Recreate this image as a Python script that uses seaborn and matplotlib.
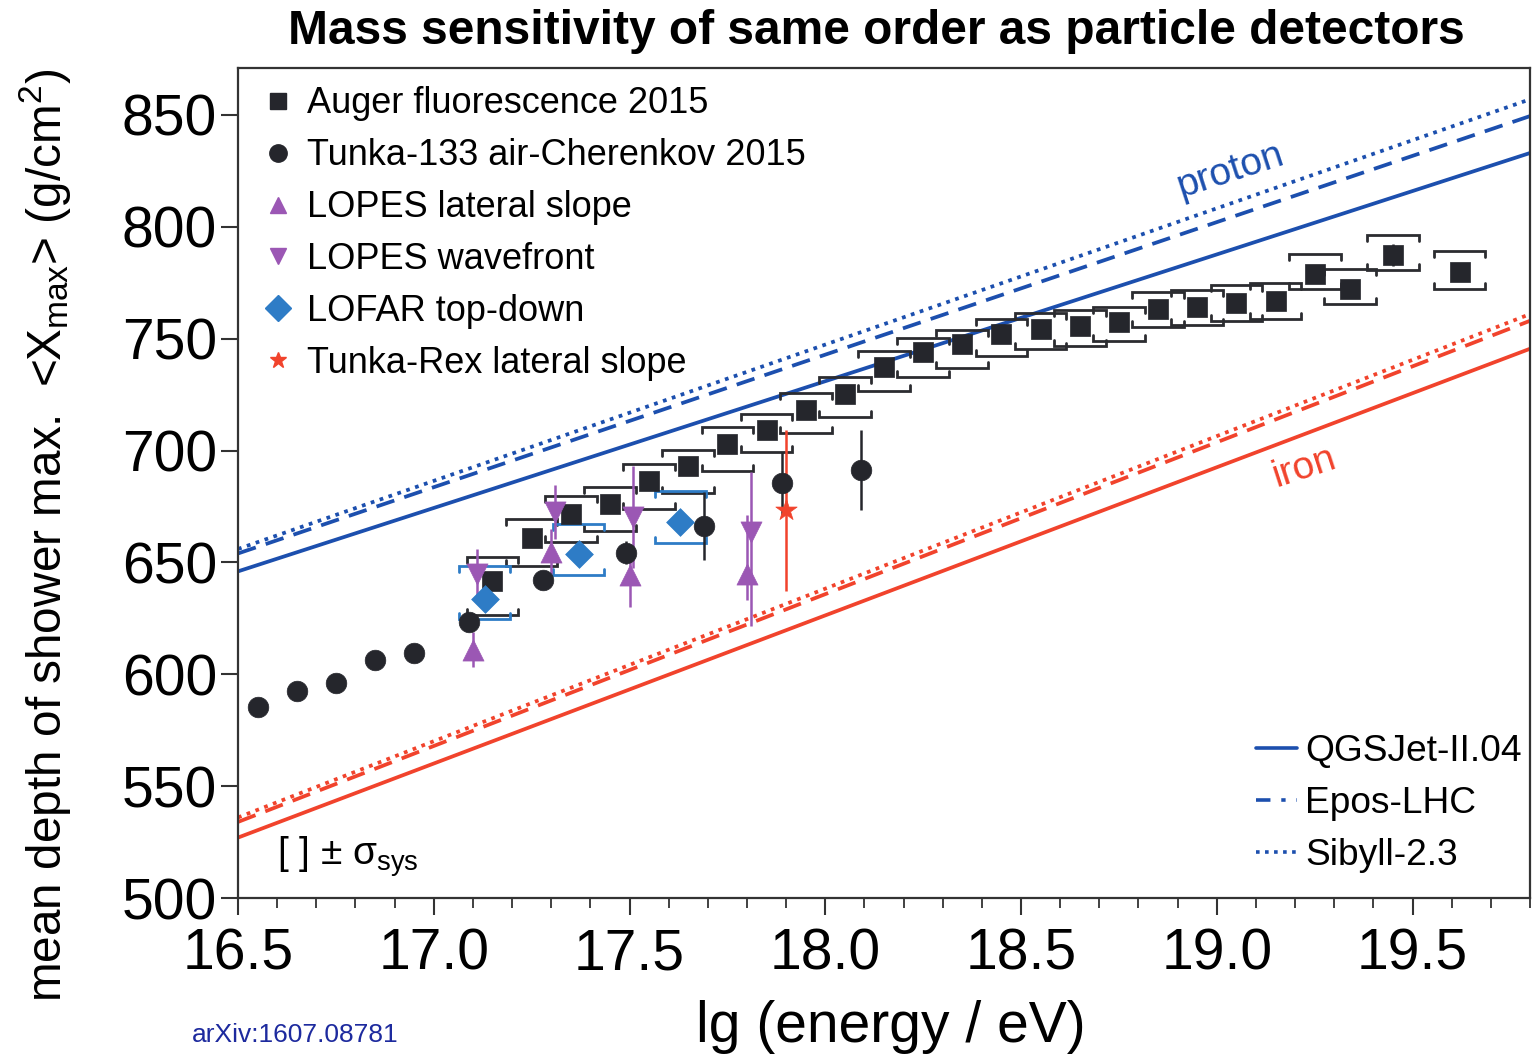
import numpy as np
import pandas as pd
import matplotlib
matplotlib.use("Agg")
import matplotlib.pyplot as plt
import seaborn as sns
from matplotlib.lines import Line2D
from matplotlib.ticker import MultipleLocator

# ---------------- data ----------------
auger_x = [17.15, 17.25, 17.35, 17.45, 17.55, 17.65, 17.75, 17.85, 17.95, 18.05,
           18.15, 18.25, 18.35, 18.45, 18.55, 18.65, 18.75, 18.85, 18.95, 19.05,
           19.15, 19.25, 19.34, 19.45, 19.62]
auger_y = [641.5, 661.0, 671.8, 676.2, 686.6, 692.9, 703.0, 709.2, 718.2, 725.3,
           737.5, 744.0, 747.6, 752.1, 754.3, 755.8, 757.3, 763.3, 764.3, 765.8,
           766.7, 778.9, 772.2, 787.5, 779.6]
auger_stat = [2, 2, 2, 2, 2, 2, 2, 2, 2, 2,
              2, 2, 2, 2, 2, 2, 2, 2, 2, 2.5,
              2.5, 3.5, 3, 5, 4]
auger_sys_up = [11, 8.5, 8, 7.5, 7.5, 7.4, 7.4, 7.2, 7.4, 7.4,
                7, 6.5, 6.5, 6.7, 7, 7, 7, 7.4, 7.5, 8,
                8.2, 9, 9, 9, 9.4]
auger_sys_lo = [15, 12.6, 12.7, 12, 12.6, 12, 12, 10, 10.5, 10.4,
                11, 11.2, 10.5, 9.7, 9, 9, 8.5, 8.2, 8, 8,
                7.9, 6.7, 6.7, 6.8, 7.4]

tunka_x = [16.55, 16.65, 16.75, 16.85, 16.95, 17.09, 17.28, 17.49, 17.69, 17.89, 18.09]
tunka_y = [585.4, 592.5, 596.3, 606.6, 609.5, 623.4, 642.3, 654.4, 666.3, 685.4, 691.4]
tunka_err = [0, 0, 0, 0, 0, 3, 3, 5, 15, 14, 18]

lopes_ls_x = [17.10, 17.30, 17.50, 17.80]
lopes_ls_y = [610.7, 654.8, 644.2, 645.0]
lopes_ls_lo = [7.5, 10, 14, 12]
lopes_ls_hi = [8, 10, 14, 26]

lopes_wf_x = [17.11, 17.31, 17.51, 17.81]
lopes_wf_y = [645.0, 672.5, 670.3, 663.5]
lopes_wf_lo = [11, 12, 23, 42]
lopes_wf_hi = [11, 12, 23, 27]

lofar_x = [17.13, 17.37, 17.63]
lofar_y = [633.8, 653.6, 668.1]
lofar_sys_up = [14.6, 13.7, 13.7]
lofar_sys_lo = [9.3, 9.4, 9.5]

trex_x = [17.90]
trex_y = [673.4]
trex_err = [36]

model_lgE = [16.5, 19.8]
p_qgs = [646, 833]
p_epos = [654, 849.5]
p_sib = [656, 857]
fe_qgs = [527, 745.5]
fe_epos = [534, 758]
fe_sib = [536, 761]

y_ticks = [500, 550, 600, 650, 700, 750, 800, 850]
x_ticks = [16.5, 17.0, 17.5, 18.0, 18.5, 19.0, 19.5]

# ---------------- style ----------------
sns.set_theme(style="ticks")
plt.rcParams['font.family'] = ['Liberation Sans', 'DejaVu Sans']
plt.rcParams['mathtext.fontset'] = 'custom'
plt.rcParams['mathtext.rm'] = 'Liberation Sans'
plt.rcParams['mathtext.it'] = 'Liberation Sans:italic'
plt.rcParams['mathtext.bf'] = 'Liberation Sans:bold'
plt.rcParams['text.color'] = 'black'
plt.rcParams['axes.labelcolor'] = 'black'
plt.rcParams['xtick.labelcolor'] = 'black'
plt.rcParams['ytick.labelcolor'] = 'black'

C_DARK = '#25262c'
C_PURP = '#9b57b4'
C_LOFAR = '#2e7cc6'
C_RED = '#f1432c'
C_BLUE = '#1c4fae'

fig = plt.figure(figsize=(15.32, 10.56), dpi=100)
ax = fig.add_axes([238 / 1532, 1 - 898 / 1056, 1292 / 1532, 830 / 1056])

# ---------------- model lines ----------------
models = pd.DataFrame({
    'lgE': model_lgE * 6,
    'Xmax': p_qgs + p_epos + p_sib + fe_qgs + fe_epos + fe_sib,
    'line': ['pq'] * 2 + ['pe'] * 2 + ['ps'] * 2 + ['fq'] * 2 + ['fe'] * 2 + ['fs'] * 2,
})
styles = {
    'pq': (C_BLUE, '-'), 'pe': (C_BLUE, (0, (5, 2.8))), 'ps': (C_BLUE, (0, (1, 1.5))),
    'fq': (C_RED, '-'), 'fe': (C_RED, (0, (5, 2.8))), 'fs': (C_RED, (0, (1, 1.5))),
}
for key, (col, ls) in styles.items():
    sub = models[models['line'] == key]
    sns.lineplot(data=sub, x='lgE', y='Xmax', ax=ax, color=col, linewidth=2.7,
                 linestyle=ls, legend=False, zorder=2)

# ---------------- systematic brackets ----------------
def brackets(xs, ys, up, lo, color, hw=0.066, tick=2.7):
    for x, y, u, l in zip(xs, ys, up, lo):
        yt, yb = y + u, y - l
        ax.plot([x - hw, x - hw, x + hw, x + hw], [yt - tick, yt, yt, yt - tick],
                color=color, lw=2.0, solid_joinstyle='miter', zorder=3)
        ax.plot([x - hw, x - hw, x + hw, x + hw], [yb + tick, yb, yb, yb + tick],
                color=color, lw=2.0, solid_joinstyle='miter', zorder=3)

brackets(auger_x, auger_y, auger_sys_up, auger_sys_lo, '#2b2c30')
brackets(lofar_x, lofar_y, lofar_sys_up, lofar_sys_lo, C_LOFAR)

# ---------------- error bars ----------------
ax.errorbar(auger_x, auger_y, yerr=auger_stat, fmt='none', ecolor=C_DARK, elinewidth=1.8, zorder=4)
ax.errorbar(tunka_x, tunka_y, yerr=tunka_err, fmt='none', ecolor=C_DARK, elinewidth=1.8, zorder=4)
ax.errorbar(lopes_ls_x, lopes_ls_y, yerr=[lopes_ls_lo, lopes_ls_hi], fmt='none', ecolor=C_PURP, elinewidth=1.8, zorder=4)
ax.errorbar(lopes_wf_x, lopes_wf_y, yerr=[lopes_wf_lo, lopes_wf_hi], fmt='none', ecolor=C_PURP, elinewidth=1.8, zorder=4)
ax.errorbar(trex_x, trex_y, yerr=trex_err, fmt='none', ecolor=C_RED, elinewidth=1.8, zorder=4)

# ---------------- markers ----------------
sns.scatterplot(x=auger_x, y=auger_y, ax=ax, marker='s', s=200, color=C_DARK, edgecolor=C_DARK, linewidth=0.5, zorder=5)
sns.scatterplot(x=tunka_x, y=tunka_y, ax=ax, marker='o', s=220, color=C_DARK, edgecolor=C_DARK, linewidth=0.5, zorder=5)
sns.scatterplot(x=lopes_ls_x, y=lopes_ls_y, ax=ax, marker='^', s=230, color=C_PURP, edgecolor=C_PURP, linewidth=0.5, zorder=6)
sns.scatterplot(x=lopes_wf_x, y=lopes_wf_y, ax=ax, marker='v', s=230, color=C_PURP, edgecolor=C_PURP, linewidth=0.5, zorder=6)
sns.scatterplot(x=lofar_x, y=lofar_y, ax=ax, marker='D', s=200, color=C_LOFAR, edgecolor=C_LOFAR, linewidth=0.5, zorder=6)
sns.scatterplot(x=trex_x, y=trex_y, ax=ax, marker='*', s=260, color=C_RED, edgecolor=C_RED, linewidth=0.5, zorder=6)

# ---------------- axes ----------------
ax.set_xlim(16.5, 19.8)
ax.set_ylim(500, 871)
ax.set_xticks(x_ticks)
ax.set_xticklabels([f'{v:.1f}' for v in x_ticks])
ax.set_yticks(y_ticks)
ax.set_yticklabels([str(v) for v in y_ticks])
ax.xaxis.set_minor_locator(MultipleLocator(0.1))
ax.tick_params(axis='both', which='major', labelsize=41, length=12, width=1.5,
               color='#333333', direction='out', pad=3)
ax.tick_params(axis='x', which='minor', length=7, width=1.3, color='#333333', direction='out')
ax.tick_params(axis='x', which='major', pad=9)
for sp in ax.spines.values():
    sp.set_linewidth(1.6)
    sp.set_color('#333333')
ax.set_facecolor('white')

ax.set_xlabel('lg (energy / eV)', fontsize=41)
ax.xaxis.label.set_va('center')
ax.xaxis.set_label_coords((891 - 238) / 1292, (898 - 1027) / 830)
ax.set_ylabel(r'mean depth of shower max.  <X$_{\rm max}$> (g/cm$^{\rm 2}$)', fontsize=34.4)
ax.yaxis.label.set_va('center')
ax.yaxis.set_label_coords((45 - 238) / 1292, (898 - 535) / 830)

fig.text(876 / 1532, 1 - 31 / 1056, 'Mass sensitivity of same order as particle detectors',
         ha='center', va='center', fontsize=34.5, fontweight='bold', color='black')
fig.text(192 / 1532, 1 - 1035 / 1056, 'arXiv:1607.08781', ha='left', va='center',
         fontsize=19, color='#1d2a9e')

ax.text(19.036, 825, 'proton', color=C_BLUE, fontsize=28, rotation=18,
        rotation_mode='anchor', ha='center', va='center')
ax.text(19.222, 692.4, 'iron', color=C_RED, fontsize=28, rotation=18,
        rotation_mode='anchor', ha='center', va='center')
ax.text(16.6, 515, r'[ ] ± σ$_{\rm sys}$', fontsize=28, ha='left', va='baseline', color='black')

# ---------------- legends ----------------
h1 = [
    Line2D([], [], ls='none', marker='s', ms=12, color=C_DARK),
    Line2D([], [], ls='none', marker='o', ms=12.5, color=C_DARK),
    Line2D([], [], ls='none', marker='^', ms=12, color=C_PURP),
    Line2D([], [], ls='none', marker='v', ms=12, color=C_PURP),
    Line2D([], [], ls='none', marker='D', ms=13, color=C_LOFAR),
    Line2D([], [], ls='none', marker='*', ms=12, color=C_RED),
]
l1 = ['Auger fluorescence 2015', 'Tunka-133 air-Cherenkov 2015', 'LOPES lateral slope',
      'LOPES wavefront', 'LOFAR top-down', 'Tunka-Rex lateral slope']
leg1 = ax.legend(h1, l1, loc='upper left', bbox_to_anchor=((253 - 238) / 1292, 1 - (79 - 68) / 830),
                 fontsize=26, frameon=False, handlelength=1.0, handletextpad=0.3,
                 labelspacing=0.47, borderpad=0.2, borderaxespad=0)
ax.add_artist(leg1)

h2 = [
    Line2D([], [], color=C_BLUE, lw=2.6, ls='-'),
    Line2D([], [], color=C_BLUE, lw=2.6, ls=(0, (4, 3, 1.2, 3))),
    Line2D([], [], color=C_BLUE, lw=2.6, ls=(0, (1, 1.5))),
]
l2 = ['QGSJet-II.04', 'Epos-LHC', 'Sibyll-2.3']
leg2 = ax.legend(h2, l2, loc='lower right', bbox_to_anchor=((1529 - 238) / 1292, (898 - 880) / 830),
                 fontsize=26.7, frameon=False, handlelength=1.1, handletextpad=0.22,
                 labelspacing=0.45, borderpad=0.2, borderaxespad=0)

fig.savefig('out.png', dpi=100, facecolor='white')
